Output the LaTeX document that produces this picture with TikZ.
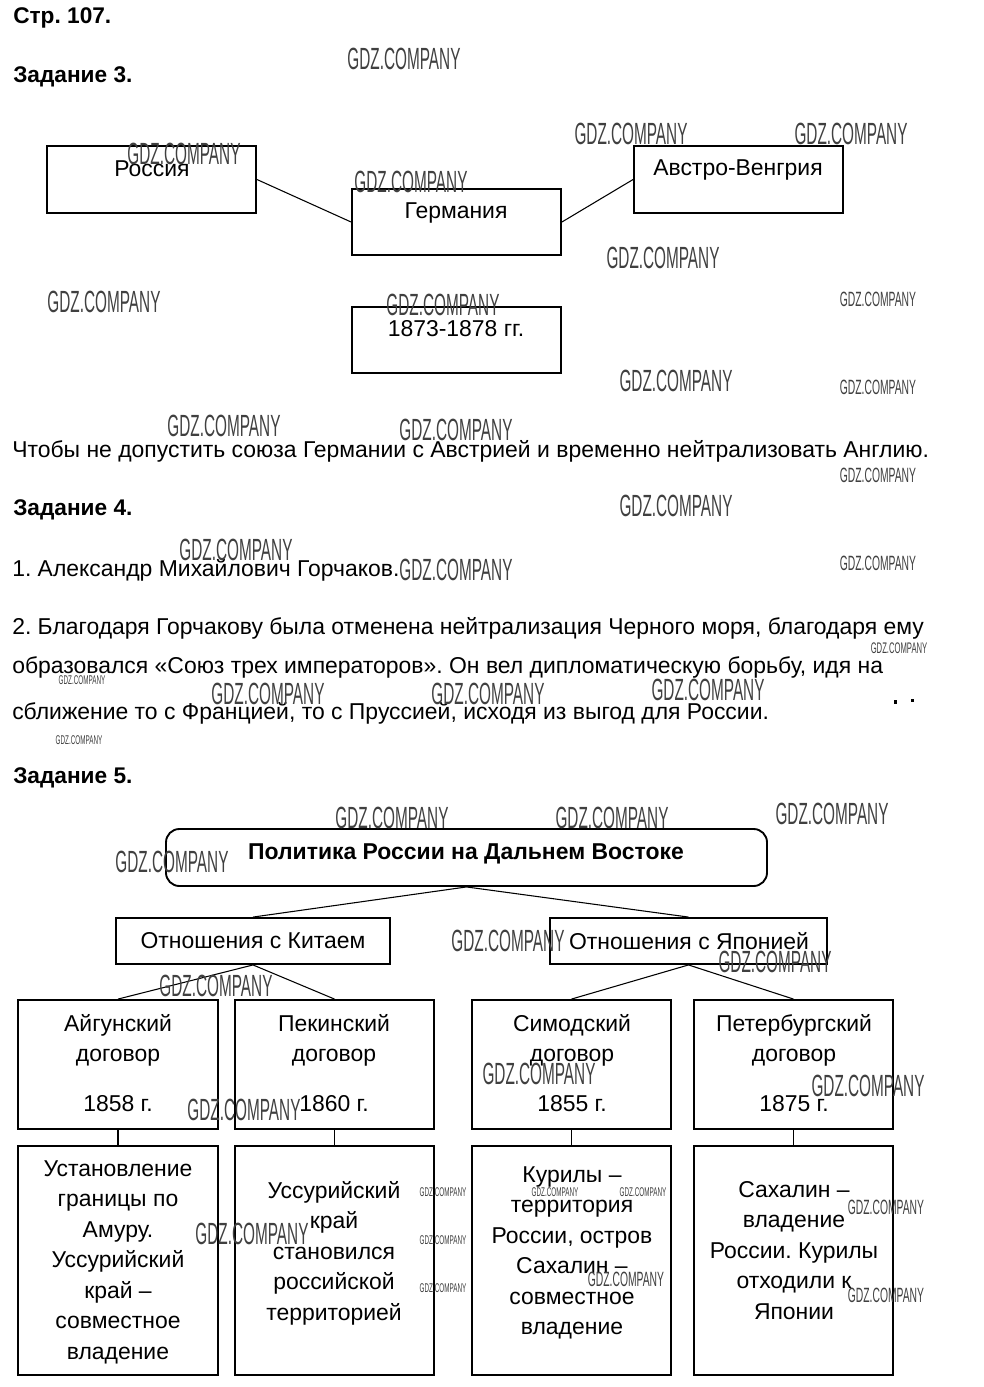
\documentclass[tikz,border=0pt]{standalone}
\usepackage{fontspec}
\setmainfont{Liberation Sans}
\newfontfamily\wmfont[FakeStretch=0.5]{Liberation Sans}
\frenchspacing
\begin{document}
\begin{tikzpicture}[x=0.75pt,y=-0.75pt,
  box/.style={draw, line width=1.4pt, inner sep=0pt},
  link/.style={draw, line width=0.8pt},
  txt/.style={inner sep=0pt, font=\fontsize{17.2}{22.9}\selectfont, align=center},
  ltxt/.style={inner sep=0pt, anchor=west, font=\fontsize{17.2}{22.9}\selectfont},
  head/.style={inner sep=0pt, anchor=west, font=\bfseries\fontsize{17}{20}\selectfont},
  wm/.style={inner sep=0pt, text=black!75, font=\wmfont\fontsize{23}{23}\selectfont},
  wms/.style={wm, font=\wmfont\fontsize{15.5}{15.5}\selectfont},
  wmt/.style={wm, font=\wmfont\fontsize{11.5}{11.5}\selectfont},
  wmx/.style={wm, font=\wmfont\fontsize{9.5}{9.5}\selectfont}]
\fill[white] (0,0) rectangle (983,1387);
\useasboundingbox (0,0) rectangle (983,1387);

% headings
\node[head] (h0) at (13,18) {Стр. 107.};
\node[head] (h3) at (13,77) {Задание 3.};

% task 3 boxes
\node[box, minimum width={209*0.75pt}, minimum height={67*0.75pt}] (russia) at (151.5,179.5) {};
\node[box, minimum width={209*0.75pt}, minimum height={66*0.75pt}] (germany) at (456.5,222) {};
\node[box, minimum width={209*0.75pt}, minimum height={67*0.75pt}] (austria) at (738.5,179.5) {};
\node[box, minimum width={209*0.75pt}, minimum height={66*0.75pt}] (years) at (456.5,340) {};
\node[txt] (russiaT) at (152,169) {Россия};
\node[txt] (germanyT) at (456,213) {Германия};
\node[txt] (austriaT) at (738,170) {Австро-Венгрия};
\node[txt] (yearsT) at (456,329) {1873-1878 гг.};
\draw[link] (russia.east) -- (germany.west);
\draw[link] (germany.east) -- (austria.west);

\node[ltxt] (ans3) at (12,451) {Чтобы не допустить союза Германии с Австрией и временно нейтрализовать Англию.};

\node[head] (h4) at (13,510) {Задание 4.};
\node[ltxt] (a41) at (12,570) {1. Александр Михайлович Горчаков.};
\node[ltxt] (a42) at (12,628) {2. Благодаря Горчакову была отменена нейтрализация Черного моря, благодаря ему};
\node[ltxt] (a43) at (12,667) {образовался «Союз трех императоров». Он вел дипломатическую борьбу, идя на};
\node[ltxt] (a44) at (12,713) {сближение то с Францией, то с Пруссией, исходя из выгод для России.};
\fill (893.5,700) rectangle (896.5,703.5);
\fill (910.5,699) rectangle (913.5,702);

\node[head] (h5) at (13,778) {Задание 5.};

% task 5
\node[box, rounded corners=10pt, minimum width={601*0.75pt}, minimum height={57*0.75pt}] (pol) at (466.5,857.5) {};
\node[txt, font=\bfseries\fontsize{17.2}{20}\selectfont] (polT) at (466,854) {Политика России на Дальнем Востоке};
\node[box, minimum width={274*0.75pt}, minimum height={46*0.75pt}] (china) at (253,941) {};
\node[txt] (chinaT) at (253,941) {Отношения с Китаем};
\node[box, minimum width={277*0.75pt}, minimum height={46*0.75pt}] (japan) at (688.5,941) {};
\node[txt] (japanT) at (689,941) {Отношения с Японией};
\draw[link] (pol.south) -- (china.north);
\draw[link] (pol.south) -- (japan.north);

\foreach \n/\x/\w in {t1/118/200, t2/334.5/199, t3/571.5/199, t4/793.5/199}{
  \node[box, minimum width={\w*0.75pt}, minimum height={129*0.75pt}] (\n) at (\x,1064.5) {};
}
\foreach \n/\x/\w in {b1/118/200, b2/334.5/199, b3/571.5/199, b4/793.5/199}{
  \node[box, minimum width={\w*0.75pt}, minimum height={229*0.75pt}] (\n) at (\x,1260.5) {};
}
\draw[link] (china.south) -- (t1.north);
\draw[link] (china.south) -- (t2.north);
\draw[link] (japan.south) -- (t3.north);
\draw[link] (japan.south) -- (t4.north);
\draw[link] (t1.south) -- (b1.north);
\draw[link] (t2.south) -- (b2.north);
\draw[link] (t3.south) -- (b3.north);
\draw[link] (t4.south) -- (b4.north);

\node[txt, anchor=north] (t1T) at (118,1014) {Айгунский\\договор\\[14pt]1858 г.};
\node[txt, anchor=north] (t2T) at (334,1014) {Пекинский\\договор\\[14pt]1860 г.};
\node[txt, anchor=north] (t3T) at (572,1014) {Симодский\\договор\\[14pt]1855 г.};
\node[txt, anchor=north] (t4T) at (794,1014) {Петербургский\\договор\\[14pt]1875 г.};

\node[txt, anchor=north] (b1T) at (118,1160) {Установление\\границы по\\Амуру.\\Уссурийский\\край –\\совместное\\владение};
\node[txt, anchor=north] (b2T) at (334,1181) {Уссурийский\\край\\становился\\российской\\территорией};
\node[txt, anchor=north] (b3T) at (572,1166) {Курилы –\\территория\\России, остров\\Сахалин –\\совместное\\владение};
\node[txt, anchor=north] (b4T) at (794,1181) {Сахалин –\\владение\\России. Курилы\\отходили к\\Японии};

% watermarks
\node[wm] (w1) at (404,59) {GDZ.COMPANY};
\node[wm] (w2) at (631,134) {GDZ.COMPANY};
\node[wm] (w3) at (851,134) {GDZ.COMPANY};
\node[wm] (w4) at (184,154) {GDZ.COMPANY};
\node[wm] (w5) at (411,182) {GDZ.COMPANY};
\node[wm] (w6) at (663,258) {GDZ.COMPANY};
\node[wm] (w7) at (104,302) {GDZ.COMPANY};
\node[wm] (w8) at (443,305) {GDZ.COMPANY};
\node[wm] (w9) at (676,381) {GDZ.COMPANY};
\node[wm] (w10) at (224,426) {GDZ.COMPANY};
\node[wm] (w11) at (456,430) {GDZ.COMPANY};
\node[wm] (w12) at (676,506) {GDZ.COMPANY};
\node[wm] (w13) at (236,550) {GDZ.COMPANY};
\node[wm] (w14) at (456,570) {GDZ.COMPANY};
\node[wm] (w15) at (268,694) {GDZ.COMPANY};
\node[wm] (w16) at (488,694) {GDZ.COMPANY};
\node[wm] (w17) at (708,690) {GDZ.COMPANY};
\node[wm] (w18) at (392,818) {GDZ.COMPANY};
\node[wm] (w19) at (612,818) {GDZ.COMPANY};
\node[wm] (w20) at (832,814) {GDZ.COMPANY};
\node[wm] (w21) at (172,862) {GDZ.COMPANY};
\node[wm] (w22) at (508,941) {GDZ.COMPANY};
\node[wm] (w23) at (775,962) {GDZ.COMPANY};
\node[wm] (w24) at (216,986) {GDZ.COMPANY};
\node[wm] (w25) at (539,1074) {GDZ.COMPANY};
\node[wm] (w26) at (244,1110) {GDZ.COMPANY};
\node[wm] (w27) at (868,1086) {GDZ.COMPANY};
\node[wm] (w28) at (252,1234) {GDZ.COMPANY};
\node[wms] (s1) at (878,299) {GDZ.COMPANY};
\node[wms] (s2) at (878,387) {GDZ.COMPANY};
\node[wms] (s3) at (878,475) {GDZ.COMPANY};
\node[wms] (s4) at (878,563) {GDZ.COMPANY};
\node[wms] (s5) at (886,1207) {GDZ.COMPANY};
\node[wms] (s6) at (886,1295) {GDZ.COMPANY};
\node[wms] (s7) at (626,1279) {GDZ.COMPANY};
\node[wmt] (u1) at (899,648) {GDZ.COMPANY};
\node[wmx] (u2) at (82,680) {GDZ.COMPANY};
\node[wmx] (u3) at (79,740) {GDZ.COMPANY};
\node[wmx] (u4) at (443,1192) {GDZ.COMPANY};
\node[wmx] (u5) at (443,1240) {GDZ.COMPANY};
\node[wmx] (u6) at (443,1288) {GDZ.COMPANY};
\node[wmx] (u7) at (555,1192) {GDZ.COMPANY};
\node[wmx] (u8) at (643,1192) {GDZ.COMPANY};
\end{tikzpicture}
\end{document}
